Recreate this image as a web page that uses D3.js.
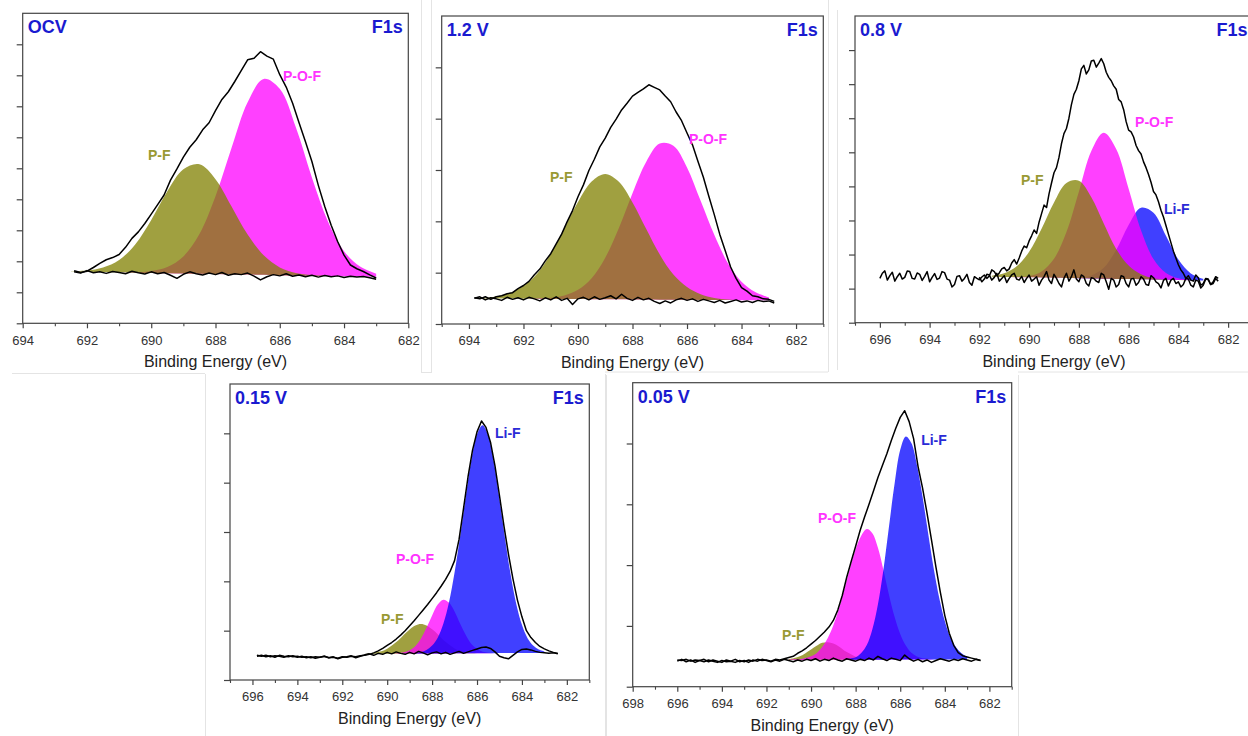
<!DOCTYPE html>
<html><head><meta charset="utf-8">
<script src="https://cdn.jsdelivr.net/npm/d3@7"></script>
<style>
html,body{margin:0;padding:0;background:#fff;}
svg{display:block;font-family:"Liberation Sans",Arial,Helvetica,sans-serif;}
</style></head><body>
<script>
// ================= DATA =================
// Raw spectra (envelope) and background noise lines are sampled every *RawStep eV, descending from *Start.
// Fitted component heights above the linear background, sampled every compStep eV from compStart.

// ---- OCV ----
const ocvXTicks = [694, 692, 690, 688, 686, 684, 682];
const ocvRawStep = 0.2;
const ocvEnvStart = 692.4;
const ocvEnv = [
1.70,1.64,1.68,1.80,1.93,2.05,2.12,2.22,2.45,2.74,
2.95,3.22,3.52,3.83,4.14,4.62,4.98,5.36,5.68,5.92,
6.24,6.47,6.86,7.22,7.47,7.80,8.15,8.50,8.55,8.76,
8.62,8.52,8.02,7.62,7.10,6.47,5.86,5.22,4.45,3.77,
3.16,2.64,2.20,1.88,1.76,1.67,1.56,1.46];
const ocvBgStart = 692.4;
const ocvBg = [
1.66,1.62,1.70,1.63,1.66,1.61,1.67,1.64,1.60,1.68,
1.63,1.59,1.66,1.60,1.64,1.55,1.45,1.58,1.66,1.60,
1.56,1.62,1.57,1.64,1.55,1.60,1.57,1.62,1.52,1.40,
1.50,1.57,1.53,1.60,1.52,1.56,1.50,1.55,1.49,1.54,
1.50,1.53,1.48,1.52,1.49,1.51,1.47,1.42];
const ocvCompStart = 692.5, ocvCompStep = 0.5;
const ocvPF  = [.01,.04,.15,.40,.91,1.71,2.64,3.36,3.53,3.06, 2.19,1.29,.63,.25,.08,.02,0,0,0,0];
const ocvPOF = [0,0,0,0,.01,.06,.20,.55,1.28,2.51, 4.08,5.56,6.32,6.01,4.78,3.17,1.76,.81,.32,.10];
const ocvBase = [[692.5, 1.67], [683.0, 1.50]];
const ocvLabels = [["P-F", 690.1, 5.27, "PF"], ["P-O-F", 685.9, 7.82, "POF"]];

// ---- 1.2 V ----
const v12XTicks = [694, 692, 690, 688, 686, 684, 682];
const v12RawStep = 0.2;
const v12EnvStart = 693.8;
const v12Env = [
.51,.49,.53,.48,.53,.55,.59,.61,.69,.75,
.83,.96,1.07,1.23,1.37,1.56,1.75,1.99,2.21,2.48,
2.71,2.99,3.21,3.45,3.62,3.83,3.99,4.17,4.30,4.44,
4.51,4.58,4.66,4.61,4.56,4.44,4.33,4.13,3.96,3.72,
3.49,3.17,2.86,2.49,2.13,1.75,1.43,1.11,.89,.71,
.64,.55,.53,.49,.48,.44];
const v12BgStart = 693.8;
const v12Bg = [
.50,.53,.47,.51,.49,.46,.52,.48,.51,.47,
.52,.49,.45,.51,.47,.53,.46,.50,.38,.49,
.52,.47,.53,.48,.51,.55,.49,.58,.50,.46,
.52,.47,.50,.44,.40,.45,.41,.47,.50,.46,
.49,.44,.48,.45,.42,.46,.41,.44,.47,.43,
.45,.42,.46,.44,.45,.41];
const v12CompStart = 694.0, v12CompStep = 0.5;
const v12PF  = [0,.01,.04,.11,.25,.49,.88,1.38,1.89,2.29, 2.44,2.29,1.89,1.38,.88,.49,.25,.11,.04,.01, 0,0,0];
const v12POF = [0,0,0,0,0,.01,.02,.07,.18,.41, .81,1.39,2.07,2.68,3.04,3.00,2.58,1.93,1.27,.72, .36,.16,.06];
const v12Base = [[694.0, .50], [683.0, .46]];
const v12Labels = [["P-F", 691.03, 2.77, "PF"], ["P-O-F", 685.93, 3.51, "POF"]];

// ---- 0.8 V ----
const v08XTicks = [696, 694, 692, 690, 688, 686, 684, 682];
const v08RawStep = 0.1;
const v08EnvStart = 696.0;
const v08Env = [
1.30,1.45,1.52,1.25,1.38,1.48,1.22,1.35,1.45,1.28,1.33,1.52,1.50,1.30,1.28,1.46,1.42,1.24,1.36,1.50,
1.20,1.33,1.44,1.27,1.31,1.50,1.47,1.28,1.25,1.05,1.12,1.36,1.38,1.22,1.30,1.42,1.18,1.10,1.35,1.30,
1.26,1.34,1.40,1.30,1.37,1.55,1.50,1.38,1.46,1.58,1.62,1.52,1.58,1.75,1.85,1.72,1.90,2.10,2.25,2.20,
2.40,2.55,2.72,2.62,2.95,3.20,3.45,3.38,3.78,4.10,4.40,4.55,4.85,5.25,5.55,5.70,6.00,6.40,6.70,6.85,
7.10,7.45,7.55,7.30,7.42,7.68,7.70,7.50,7.62,7.75,7.60,7.35,7.20,7.10,6.95,6.85,6.55,6.48,6.25,5.90,
5.65,5.60,5.45,5.20,5.05,4.95,4.72,4.55,4.35,4.12,3.85,3.75,3.55,3.30,3.10,2.85,2.60,2.35,2.10,1.90,
1.70,1.55,1.45,1.30,1.38,1.25,1.22,1.40,1.32,1.10,1.15,1.30,1.28,1.12,1.20,1.35,1.30];
const v08BgStart = 692.0;
const v08Bg = [
1.34,1.20,1.28,1.42,1.40,1.25,1.33,1.45,1.22,1.30,1.38,1.18,1.30,1.40,1.45,1.28,1.25,1.36,1.18,1.30,
1.40,1.22,1.28,1.35,1.10,1.25,1.35,1.50,1.25,1.15,1.42,1.30,1.15,1.05,1.30,1.45,1.22,1.35,1.55,1.28,
1.20,1.40,1.35,1.15,1.08,1.32,1.30,1.22,1.18,1.45,1.40,1.20,0.98,1.30,1.25,1.05,1.12,1.38,1.35,1.15,
1.05,1.28,1.30,1.10,1.18,1.35,1.28,1.12,1.10,1.38,1.32,1.20,1.15,1.02,1.24,1.30,1.08,1.25,1.30,1.15,
1.20,1.05,1.12,1.30,1.28,1.10,1.05,1.25,1.22,1.02,1.10,1.28,1.26,1.12,1.15,1.30,1.22];
const v08CompStart = 691.5, v08CompStep = 0.5;
const v08PF  = [.03,.11,.32,.75,1.43,2.21,2.79,2.86,2.38,1.62, .88,.40,.15,.04,.01,0,0,0];
const v08POF = [0,0,.01,.04,.18,.56,1.35,2.54,3.74,4.28, 3.81,2.65,1.43,.60,.20,.05,.01,0];
const v08LiF = [0,0,0,0,0,0,0,.02,.09,.32, .85,1.59,2.10,1.96,1.29,.60,.20,.05];
const v08Base = [[691.5, 1.35], [683.0, 1.24]];
const v08Labels = [["P-F", 690.33, 4.04, "PF"], ["P-O-F", 685.74, 5.74, "POF"], ["Li-F", 684.58, 3.19, "LiF"]];

// ---- 0.15 V ----
const v015XTicks = [696, 694, 692, 690, 688, 686, 684, 682];
const v015RawStep = 0.2;
const v015EnvStart = 695.8;
const v015Env = [
.50,.48,.50,.47,.49,.48,.46,.49,.47,.48,
.46,.47,.45,.47,.46,.48,.45,.46,.44,.47,
.46,.48,.47,.49,.50,.52,.55,.59,.64,.70,
.76,.83,.91,1.00,1.10,1.20,1.31,1.42,1.53,1.65,
1.77,1.90,2.04,2.20,2.42,2.85,3.48,4.12,4.66,5.03,
5.25,5.12,4.82,4.34,3.74,3.12,2.55,2.05,1.62,1.28,
1.00,.86,.76,.68,.63,.59,.56,.54];
const v015BgStart = 695.8;
const v015Bg = [
.48,.50,.47,.49,.46,.50,.48,.47,.49,.46,
.48,.45,.47,.44,.46,.48,.45,.47,.43,.46,
.47,.49,.45,.48,.51,.53,.50,.54,.52,.56,
.53,.57,.54,.52,.56,.53,.58,.55,.51,.55,
.57,.53,.56,.52,.55,.58,.54,.57,.60,.63,
.66,.67,.64,.57,.48,.45,.43,.50,.57,.62,
.63,.61,.58,.56,.55,.54,.55,.53];
const v015CompStart = 691.0, v015CompStep = 0.25;
const v015PF  = [0,.01,.03,.05,.10,.18,.27,.39, .49,.57,.60,.57,.49,.39,.27,.18, .10,.05,.03,.01,0,0,0,0, 0,0,0,0,0,0,0,0, 0];
const v015POF = [0,0,0,0,0,0,.01,.03, .07,.15,.30,.52,.77,.99,1.09,1.03, .85,.60,.37,.19,.09,.03,.01,0, 0,0,0,0,0,0,0,0, 0];
const v015LiF = [0,0,0,0,0,0,0,0, 0,.01,.03,.07,.16,.32,.60,1.03, 1.64,2.38,3.19,3.93,4.44,4.62,4.41,3.88, 3.13,2.32,1.58,.99,.57,.30,.15,.07, .03];
const v015Base = [[691.0, .53], [683.0, .55]];
const v015Labels = [["P-F", 690.28, 1.14, "PF"], ["P-O-F", 689.61, 2.35, "POF"], ["Li-F", 685.2, 4.91, "LiF"]];

// ---- 0.05 V ----
const v005XTicks = [698, 696, 694, 692, 690, 688, 686, 684, 682];
const v005RawStep = 0.2;
const v005EnvStart = 696.0;
const v005Env = [
.44,.43,.45,.42,.44,.43,.41,.44,.42,.40,
.43,.41,.42,.40,.43,.41,.44,.42,.45,.43,
.44,.42,.45,.44,.46,.48,.50,.55,.59,.64,
.70,.76,.83,.90,.98,1.09,1.26,1.50,1.80,2.06,
2.31,2.57,2.79,3.00,3.22,3.44,3.64,3.83,4.05,4.25,
4.43,4.54,4.36,4.08,3.62,3.27,2.86,2.42,1.97,1.55,
1.17,.88,.68,.56,.51,.49,.47,.45,.43];
const v005BgStart = 696.0;
const v005Bg = [
.42,.45,.41,.44,.40,.43,.45,.41,.44,.42,
.40,.44,.42,.45,.41,.43,.40,.44,.42,.45,
.43,.41,.44,.42,.45,.43,.41,.44,.42,.45,
.43,.46,.42,.45,.43,.47,.44,.42,.46,.44,
.42,.45,.43,.47,.44,.50,.46,.43,.47,.45,
.43,.52,.46,.42,.45,.41,.44,.40,.43,.46,
.44,.42,.45,.43,.46,.44,.42,.45,.43];
const v005CompStart = 691.0, v005CompStep = 0.25;
const v005PF  = [.01,.03,.06,.11,.17,.23,.28,.29, .27,.22,.15,.10,.05,.03,.01,0, 0,0,0,0,0,0,0,0, 0,0,0,0,0,0,0,0, 0];
const v005POF = [0,.01,.01,.03,.06,.11,.21,.36, .57,.84,1.17,1.51,1.82,2.04,2.15,2.08, 1.84,1.47,1.06,.70,.42,.23,.11,.05, .02,.01,0,0,0,0,0,0, 0];
const v005LiF = [0,0,0,0,0,0,0,0, 0,0,0,.02,.04,.11,.24,.50, .91,1.49,2.20,2.90,3.45,3.67,3.56,3.20, 2.68,2.08,1.50,1.01,.63,.36,.20,.10, .04];
const v005Base = [[691.0, .44], [683.0, .45]];
const v005Labels = [["P-F", 691.3, 0.77, "PF"], ["P-O-F", 689.69, 2.69, "POF"], ["Li-F", 685.06, 3.98, "LiF"]];

const panelNames = ["OCV", "1.2 V", "0.8 V", "0.15 V", "0.05 V"];
const coreLevel = "F1s";
const xTitle = "Binding Energy (eV)";

// ================= LAYOUT / STYLE =================
const layout = [
  {l: 22.7, t: 13.3, r: 408.3, b: 323.3, xDom: [694, 682], yDom: [0, 10]},
  {l: 441.7, t: 16, r: 823.3, b: 324, xDom: [695, 681], yDom: [0, 6]},
  {l: 855, t: 16, r: 1253, b: 322.7, xDom: [697, 681], yDom: [0, 9]},
  {l: 230, t: 384, r: 589.3, b: 680, xDom: [697, 681], yDom: [0, 6]},
  {l: 632.7, t: 382.7, r: 1011.7, b: 686.7, xDom: [698, 681], yDom: [0, 5]}
];
const fillColor = {PF: "#808000", POF: "#ff00ff", LiF: "#0000ff"};
const labelColor = {PF: "#999933", POF: "#ff33ff", LiF: "#2a2ad6"};
const titleBlue = "#1a1ad0";

const panels = [
  {xTicks: ocvXTicks, step: ocvRawStep, env: [ocvEnvStart, ocvEnv], bg: [ocvBgStart, ocvBg], cStart: ocvCompStart, cStep: ocvCompStep,
   comps: [["POF", ocvPOF], ["PF", ocvPF]], base: ocvBase, labels: ocvLabels},
  {xTicks: v12XTicks, step: v12RawStep, env: [v12EnvStart, v12Env], bg: [v12BgStart, v12Bg], cStart: v12CompStart, cStep: v12CompStep,
   comps: [["POF", v12POF], ["PF", v12PF]], base: v12Base, labels: v12Labels},
  {xTicks: v08XTicks, step: v08RawStep, env: [v08EnvStart, v08Env], bg: [v08BgStart, v08Bg], cStart: v08CompStart, cStep: v08CompStep,
   comps: [["LiF", v08LiF], ["POF", v08POF], ["PF", v08PF]], base: v08Base, labels: v08Labels},
  {xTicks: v015XTicks, step: v015RawStep, env: [v015EnvStart, v015Env], bg: [v015BgStart, v015Bg], cStart: v015CompStart, cStep: v015CompStep,
   comps: [["PF", v015PF], ["POF", v015POF], ["LiF", v015LiF]], base: v015Base, labels: v015Labels},
  {xTicks: v005XTicks, step: v005RawStep, env: [v005EnvStart, v005Env], bg: [v005BgStart, v005Bg], cStart: v005CompStart, cStep: v005CompStep,
   comps: [["PF", v005PF], ["POF", v005POF], ["LiF", v005LiF]], base: v005Base, labels: v005Labels}
];

const svg = d3.select("body").append("svg").attr("width", 1248).attr("height", 736);
svg.append("rect").attr("width", 1248).attr("height", 736).attr("fill", "#fff");

// faint borders of the original sub-images
const faint = [
  [12, 373.5, 205, 373.5], [421.5, 0, 421.5, 373], [431.5, 0, 431.5, 372], [421, 372.5, 432, 372.5],
  [605, 372, 828, 372], [828.5, 0, 828.5, 372], [837.5, 10, 837.5, 370], [1018, 372, 1248, 372],
  [205.5, 374, 205.5, 736], [605.5, 374, 605.5, 736], [606.5, 375, 606.5, 736], [1018.5, 375, 1018.5, 736]
];
svg.append("g").selectAll("line").data(faint).join("line")
  .attr("x1", d => d[0]).attr("y1", d => d[1]).attr("x2", d => d[2]).attr("y2", d => d[3])
  .attr("stroke", "#e4e4e4").attr("stroke-width", 1);

panels.forEach((p, pi) => {
  const L = layout[pi];
  const x = d3.scaleLinear().domain(L.xDom).range([L.l, L.r]);
  const y = d3.scaleLinear().domain(L.yDom).range([L.b, L.t]);
  const base = d3.scaleLinear().domain(p.base.map(d => d[0])).range(p.base.map(d => d[1]));
  const g = svg.append("g");
  const clipId = "clip" + pi;
  g.append("clipPath").attr("id", clipId).append("rect")
    .attr("x", L.l).attr("y", L.t).attr("width", L.r - L.l).attr("height", L.b - L.t);
  const plot = g.append("g").attr("clip-path", `url(#${clipId})`);

  // fitted components
  p.comps.forEach(([k, vals]) => {
    const pts = vals.map((h, i) => ({e: p.cStart - i * p.cStep, h}));
    plot.append("path").datum(pts)
      .attr("d", d3.area().curve(d3.curveCatmullRom)
        .x(d => x(d.e)).y0(d => y(base(d.e))).y1(d => y(base(d.e) + d.h)))
      .attr("fill", fillColor[k]).attr("fill-opacity", 0.75);
  });

  // noisy background and raw envelope
  [p.bg, p.env].forEach(([start, vals]) => {
    const pts = vals.map((v, i) => ({e: start - i * p.step, v}));
    plot.append("path").datum(pts)
      .attr("d", d3.line().x(d => x(d.e)).y(d => y(d.v)))
      .attr("fill", "none").attr("stroke", "#000").attr("stroke-width", 1.5)
      .attr("stroke-linejoin", "round");
  });

  // frame
  g.append("rect").attr("x", L.l).attr("y", L.t).attr("width", L.r - L.l).attr("height", L.b - L.t)
    .attr("fill", "none").attr("stroke", "#444").attr("stroke-width", 1.2);

  // x axis: minor ticks
  const minor = d3.range(Math.ceil(L.xDom[1]), L.xDom[0] + 0.001, 1).filter(v => !p.xTicks.includes(v));
  const axMinor = g.append("g").attr("transform", `translate(0,${L.b})`)
    .call(d3.axisBottom(x).tickValues(minor).tickSize(3).tickSizeOuter(0).tickFormat(""));
  axMinor.select(".domain").remove();
  axMinor.selectAll("line").attr("stroke", "#444").attr("stroke-width", 1.1);
  // x axis: major ticks with labels
  const ax = g.append("g").attr("transform", `translate(0,${L.b})`)
    .call(d3.axisBottom(x).tickValues(p.xTicks).tickSize(5).tickSizeOuter(0).tickPadding(7).tickFormat(d3.format("d")));
  ax.select(".domain").remove();
  ax.attr("font-family", null).attr("font-size", null);
  ax.selectAll("line").attr("stroke", "#444").attr("stroke-width", 1.2);
  ax.selectAll("text").attr("font-size", 13).attr("fill", "#333");

  // y axis (unlabelled ticks)
  const yTicks = d3.range(L.yDom[0], L.yDom[1], 1);
  const ay = g.append("g").attr("transform", `translate(${L.l},0)`)
    .call(d3.axisLeft(y).tickValues(yTicks).tickSize(6).tickSizeOuter(0).tickFormat(""));
  ay.select(".domain").remove();
  ay.selectAll("line").attr("stroke", "#444").attr("stroke-width", 1.2);

  // axis title
  g.append("text").attr("x", (L.l + L.r) / 2).attr("y", L.b + 44).attr("text-anchor", "middle")
    .attr("font-size", 16).attr("fill", "#222").text(xTitle);

  // panel headers
  g.append("text").attr("x", L.l + 5).attr("y", L.t + 20).attr("font-size", 18).attr("font-weight", "bold")
    .attr("fill", titleBlue).text(panelNames[pi]);
  g.append("text").attr("x", L.r - 5.5).attr("y", L.t + 20).attr("text-anchor", "end").attr("font-size", 18)
    .attr("font-weight", "bold").attr("fill", titleBlue).text(coreLevel);

  // component labels
  p.labels.forEach(([t, e, v, k]) => {
    g.append("text").attr("x", x(e)).attr("y", y(v)).attr("font-size", 14).attr("font-weight", "bold")
      .attr("fill", labelColor[k]).text(t);
  });
});
</script>
</body></html>
